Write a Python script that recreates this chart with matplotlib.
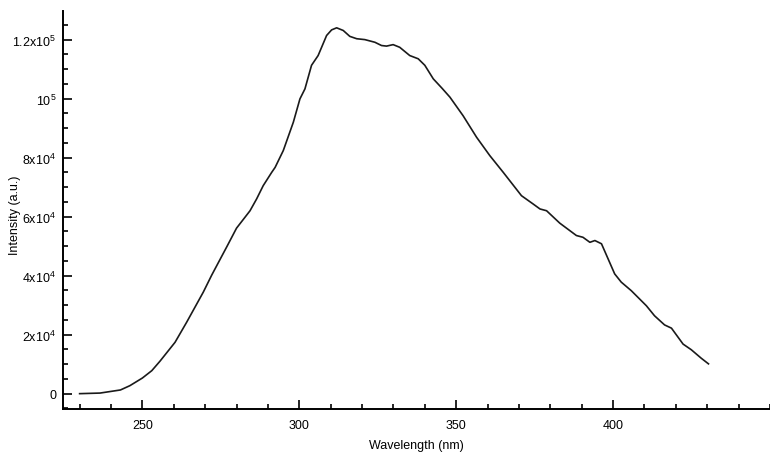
import numpy as np
import matplotlib
matplotlib.use("Agg")
import matplotlib.pyplot as plt
from matplotlib.ticker import MultipleLocator, FixedLocator

plt.rcParams['font.family'] = ['Liberation Sans', 'DejaVu Sans']
plt.rcParams['mathtext.fontset'] = 'custom'
plt.rcParams['mathtext.rm'] = 'Liberation Sans'
plt.rcParams['mathtext.it'] = 'Liberation Sans'

# Espectro (nm, u.a.)
wavelength = [230, 236.5, 243, 246, 250, 253, 255.6, 260.4, 264.1, 269.4, 272.1,
              273.7, 277, 280, 282.7, 284.3, 286.4, 288.5, 291.2, 292.3, 294.9,
              298.1, 300.2, 301.8, 303.9, 306, 308.7, 310.3, 311.9, 314, 316.1,
              318.3, 320.9, 324.1, 326.2, 327.8, 329.9, 332, 335.2, 337.9, 340,
              342.7, 345.5, 348, 352.2, 356.5, 360.7, 365, 370.8, 374.5, 376.7,
              378.8, 383, 388.3, 390.4, 392.6, 394.2, 396.3, 398.4, 400.5, 402.6,
              405.8, 410.6, 413.2, 416.4, 418.6, 422.3, 424.9, 428.1, 430.4]
intensity = [0, 200, 1250, 2700, 5300, 7800, 11000, 17400, 24200, 34400, 40200,
             43400, 50000, 56100, 59800, 62000, 66000, 70500, 75000, 76700, 82400,
             92000, 99900, 103300, 111300, 114600, 121400, 123300, 124000, 123100, 121100,
             120300, 120000, 119100, 118000, 117800, 118300, 117400, 114600, 113500, 111300,
             106700, 103500, 100500, 94200, 86900, 80700, 75000, 67100, 64300, 62600,
             62000, 57800, 53600, 53000, 51300, 51900, 50800, 45700, 40600, 37800,
             34900, 29800, 26400, 23300, 22200, 16800, 14900, 12000, 10100]

y_ticks = [0, 20000, 40000, 60000, 80000, 100000, 120000]
y_labels = ['0', r'2x10$^4$', r'4x10$^4$', r'6x10$^4$', r'8x10$^4$', r'10$^5$', r'1.2x10$^5$']
x_ticks = [250, 300, 350, 400]

fig = plt.figure(figsize=(7.7, 4.56), dpi=100)
ax = fig.add_axes([63/770, 1-410/456, 1-63/770, (410-12)/456])

ax.plot(wavelength, intensity, color='#1a1a1a', lw=1.2)

ax.set_xlim(224.7, 450)
ax.set_ylim(-5200, 129700)

ax.spines['top'].set_visible(False)
ax.spines['right'].set_visible(False)
for s in ['left', 'bottom']:
    ax.spines[s].set_linewidth(1.4)

ax.xaxis.set_major_locator(FixedLocator(x_ticks))
ax.xaxis.set_minor_locator(MultipleLocator(10))
ax.yaxis.set_major_locator(FixedLocator(y_ticks))
ax.yaxis.set_minor_locator(MultipleLocator(5000))
ax.set_yticklabels(y_labels)

ax.tick_params(which='both', direction='in', width=1.2, labelsize=9, colors='black')
ax.tick_params(which='major', length=6.5)
ax.tick_params(which='minor', length=3.5)
ax.tick_params(axis='y', pad=5)
ax.tick_params(axis='x', pad=7)

ax.set_xlabel('Wavelength (nm)', fontsize=9, labelpad=6)
ax.set_ylabel('Intensity (a.u.)', fontsize=9)
ax.yaxis.set_label_coords(-0.059, 0.49)

fig.savefig('out.png', dpi=100)
